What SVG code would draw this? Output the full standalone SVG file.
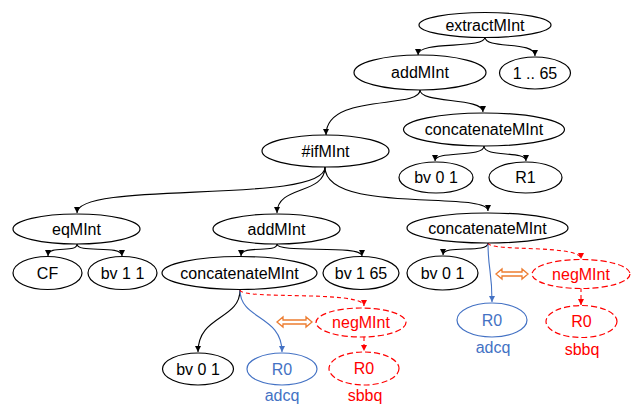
<svg xmlns="http://www.w3.org/2000/svg" width="634" height="406" viewBox="0 0 634 406">
<style>
text{font-family:"Liberation Sans",Arial,sans-serif;font-size:16px;text-anchor:middle}
.n{fill:#fff;stroke:#000;stroke-width:1.2}
.b{fill:#fff;stroke:#4472C4;stroke-width:1.2}
.r{fill:#fff;stroke:#FF0000;stroke-width:1.2;stroke-dasharray:6,3}
.e{fill:none;stroke:#000;stroke-width:1.1;marker-end:url(#ak)}
.eb{fill:none;stroke:#4472C4;stroke-width:1.1;marker-end:url(#ab)}
.er{fill:none;stroke:#FF0000;stroke-width:1.1;stroke-dasharray:4,3;marker-end:url(#ar)}
.tb{fill:#4472C4}
.tr{fill:#FF0000}
.o{fill:#fff;stroke:#ED7D31;stroke-width:1.3}
</style>
<defs>
<marker id="ak" markerUnits="userSpaceOnUse" markerWidth="8" markerHeight="8" refX="6" refY="3" orient="auto"><path d="M0,0 L6,3 L0,6 z" fill="#000"/></marker>
<marker id="ab" markerUnits="userSpaceOnUse" markerWidth="8" markerHeight="8" refX="6" refY="3" orient="auto"><path d="M0,0 L6,3 L0,6 z" fill="#4472C4"/></marker>
<marker id="ar" markerUnits="userSpaceOnUse" markerWidth="8" markerHeight="8" refX="6" refY="3" orient="auto"><path d="M0,0 L6,3 L0,6 z" fill="#FF0000"/></marker>
</defs>
<g id="connectors">
<path class="e" d="M485,37 C485,50 418,40 418,55"/>
<path class="e" d="M485,37 C485,50 535,40 535,56"/>
<path class="e" d="M420,90 C420,110 326,92 326,135"/>
<path class="e" d="M420,90 C420,104 483,97 483,112"/>
<path class="e" d="M484,146 C484,158 435,150 435,161"/>
<path class="e" d="M484,146 C484,158 526,150 526,161"/>
<path class="e" d="M325,167 C325,205 77,180 77,213"/>
<path class="e" d="M325,167 C325,195 277,185 277,213"/>
<path class="e" d="M325,167 C325,215 488,190 488,211"/>
<path class="e" d="M77,244 C77,254 48,244 48,256"/>
<path class="e" d="M77,244 C77,254 122,244 122,256"/>
<path class="e" d="M277,244 C277,254 241,244 241,256"/>
<path class="e" d="M277,244 C277,254 362,244 362,256"/>
<path class="e" d="M240,290 C240,320 198,315 198,352"/>
<path class="eb" d="M240,290 C240,320 282,315 282,352"/>
<path class="er" d="M240,290 C240,300 364,290 364,306"/>
<path class="er" d="M364,337 L364,351"/>
<path class="e" d="M488,243 C488,254 443,244 443,255"/>
<path class="eb" d="M488,243 C488,270 492,270 492,302"/>
<path class="er" d="M488,243 C488,252 581,244 581,259"/>
<path class="er" d="M581,288 L581,305"/>
<polygon class="o" points="277,322 283,317 283,320 306,320 306,317 312,322 306,327 306,324 283,324 283,327"/>
<polygon class="o" points="496,274 502,269 502,272 522,272 522,269 528,274 522,279 522,276 502,276 502,279"/>
</g>
<g id="extractMInt"><ellipse class="n" cx="485" cy="25" rx="66" ry="12.5"/><text x="485" y="30.5">extractMInt</text></g>
<g id="addMInt1"><ellipse class="n" cx="420" cy="72.5" rx="66" ry="17.5"/><text x="420" y="78">addMInt</text></g>
<g id="range"><ellipse class="n" cx="535" cy="73" rx="35.5" ry="16"/><text x="535" y="78.5">1 .. 65</text></g>
<g id="concat1"><ellipse class="n" cx="484" cy="129.5" rx="80.5" ry="16.5"/><text x="484" y="135">concatenateMInt</text></g>
<g id="ifMInt"><ellipse class="n" cx="325.5" cy="151" rx="63.5" ry="16"/><text x="325.5" y="156.5">#ifMInt</text></g>
<g id="bv01a"><ellipse class="n" cx="436" cy="177.5" rx="37" ry="15.5"/><text x="436" y="183">bv 0 1</text></g>
<g id="R1"><ellipse class="n" cx="525.5" cy="177.5" rx="36.5" ry="15.5"/><text x="525.5" y="183">R1</text></g>
<g id="eqMInt"><ellipse class="n" cx="76.5" cy="229" rx="63.5" ry="15"/><text x="76.5" y="234.5">eqMInt</text></g>
<g id="addMInt2"><ellipse class="n" cx="276.5" cy="229" rx="63.5" ry="15"/><text x="276.5" y="234.5">addMInt</text></g>
<g id="concat2"><ellipse class="n" cx="487.5" cy="228" rx="80.5" ry="15"/><text x="487.5" y="233.5">concatenateMInt</text></g>
<g id="CF"><ellipse class="n" cx="47.5" cy="273" rx="34.5" ry="16.5"/><text x="47.5" y="278.5">CF</text></g>
<g id="bv11"><ellipse class="n" cx="122.5" cy="273" rx="34.5" ry="16.5"/><text x="122.5" y="278.5">bv 1 1</text></g>
<g id="concat3"><ellipse class="n" cx="239.5" cy="273" rx="77.5" ry="16.5"/><text x="239.5" y="278.5">concatenateMInt</text></g>
<g id="bv165"><ellipse class="n" cx="361" cy="273" rx="38" ry="16.5"/><text x="361" y="278.5">bv 1 65</text></g>
<g id="bv01b"><ellipse class="n" cx="442.5" cy="273" rx="35.5" ry="17"/><text x="442.5" y="278.5">bv 0 1</text></g>
<g id="negMInt2"><ellipse class="r" cx="581" cy="274" rx="49" ry="14.5"/><text class="tr" x="581" y="279.5">negMInt</text></g>
<g id="R0blue2"><ellipse class="b" cx="492" cy="320" rx="35" ry="17"/><text class="tb" x="492" y="325.5">R0</text><text class="tb" x="493" y="353">adcq</text></g>
<g id="R0red2"><ellipse class="r" cx="581.5" cy="321.5" rx="35.5" ry="16"/><text class="tr" x="582" y="355">sbbq</text><text class="tr" x="581.5" y="327">R0</text></g>
<g id="negMInt1"><ellipse class="r" cx="361" cy="322.5" rx="45" ry="14.5"/><text class="tr" x="361" y="328">negMInt</text></g>
<g id="bv01c"><ellipse class="n" cx="198" cy="369" rx="35.5" ry="16"/><text x="198" y="374.5">bv 0 1</text></g>
<g id="R0blue1"><ellipse class="b" cx="282" cy="369" rx="35" ry="16"/><text class="tb" x="282" y="374.5">R0</text><text class="tb" x="282" y="401">adcq</text></g>
<g id="R0red1"><ellipse class="r" cx="364" cy="368.5" rx="35" ry="16.5"/><text class="tr" x="364" y="374">R0</text><text class="tr" x="365" y="401">sbbq</text></g>
</svg>
